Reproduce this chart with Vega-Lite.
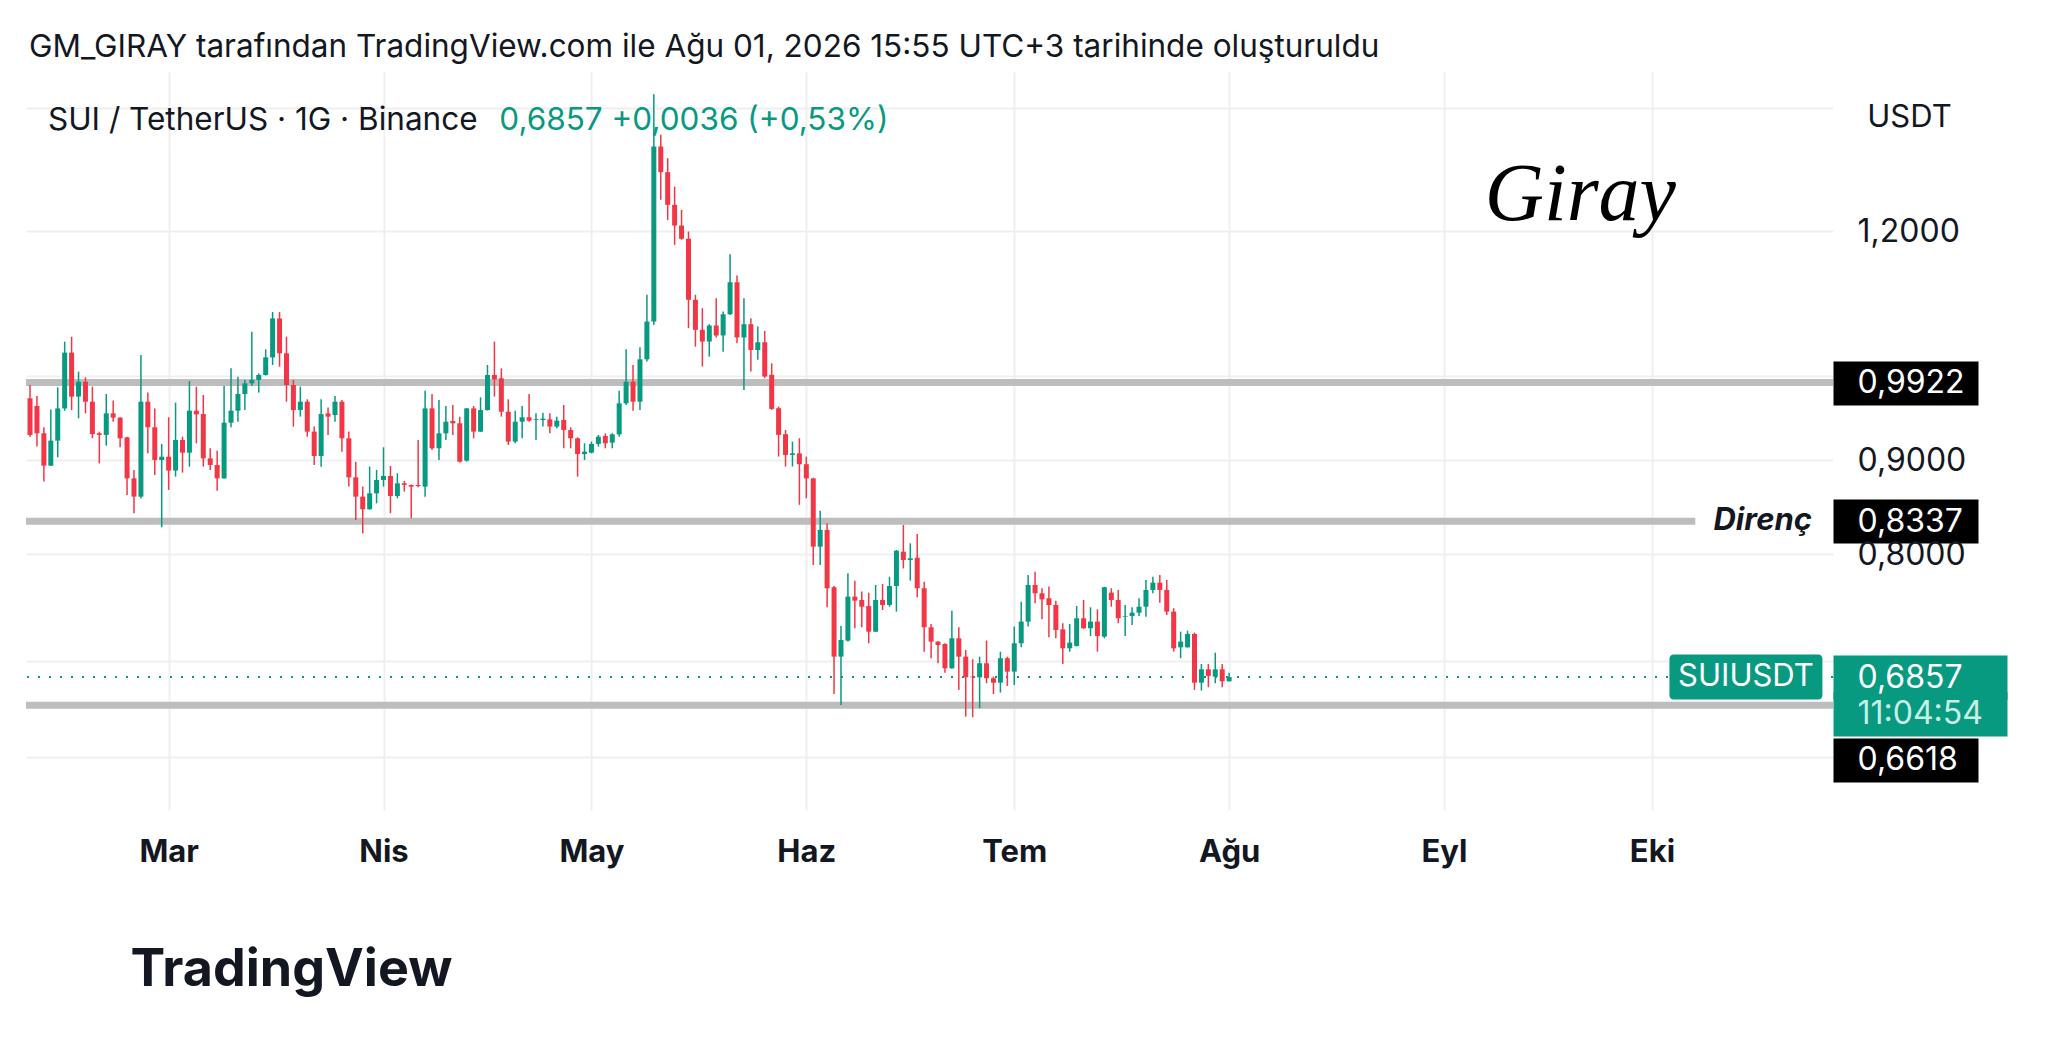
{
  "$schema": "https://vega.github.io/schema/vega-lite/v6.json",
  "width": 1807,
  "height": 738,
  "autosize": {"type": "none"},
  "padding": {"left": 26, "top": 72, "right": 215, "bottom": 235},
  "background": "white",
  "title": {
    "text": "GM_GIRAY tarafından TradingView.com ile Ağu 01, 2026 15:55 UTC+3 tarihinde oluşturuldu",
    "anchor": "start", "frame": "group", "orient": "top", "offset": 14, "baseline": "alphabetic", "dx": 3, "dy": 30,
    "fontSize": 31.5, "fontWeight": "normal", "font": "Inter", "color": "#131722"
  },
  "config": {
    "view": {"stroke": null},
    "locale": {"number": {"decimal": ",", "thousands": ".", "grouping": [3], "currency": ["", ""]}},
    "text": {"font": "Inter"}
  },
  "datasets": {
    "candles": [
      {"d":"2026-02-09","o":0.9728,"h":0.9892,"l":0.9271,"c":0.9291},
      {"d":"2026-02-10","o":0.9635,"h":0.9757,"l":0.9156,"c":0.9310},
      {"d":"2026-02-11","o":0.9310,"h":0.9381,"l":0.8763,"c":0.8940},
      {"d":"2026-02-12","o":0.8940,"h":0.9594,"l":0.8935,"c":0.9225},
      {"d":"2026-02-13","o":0.9225,"h":0.9863,"l":0.9034,"c":0.9606},
      {"d":"2026-02-14","o":0.9606,"h":1.0445,"l":0.9578,"c":1.0302},
      {"d":"2026-02-15","o":1.0302,"h":1.0510,"l":0.9586,"c":0.9749},
      {"d":"2026-02-16","o":0.9749,"h":1.0059,"l":0.9487,"c":0.9933},
      {"d":"2026-02-17","o":0.9933,"h":0.9988,"l":0.9546,"c":0.9687},
      {"d":"2026-02-18","o":0.9687,"h":0.9871,"l":0.9252,"c":0.9302},
      {"d":"2026-02-19","o":0.9310,"h":0.9330,"l":0.8966,"c":0.9291},
      {"d":"2026-02-20","o":0.9291,"h":0.9781,"l":0.9167,"c":0.9546},
      {"d":"2026-02-21","o":0.9546,"h":0.9700,"l":0.9447,"c":0.9495},
      {"d":"2026-02-22","o":0.9495,"h":0.9500,"l":0.9148,"c":0.9252},
      {"d":"2026-02-23","o":0.9263,"h":0.9270,"l":0.8617,"c":0.8799},
      {"d":"2026-02-24","o":0.8799,"h":0.8892,"l":0.8421,"c":0.8599},
      {"d":"2026-02-25","o":0.8599,"h":1.0272,"l":0.8581,"c":0.9687},
      {"d":"2026-02-26","o":0.9687,"h":0.9798,"l":0.9079,"c":0.9381},
      {"d":"2026-02-27","o":0.9381,"h":0.9606,"l":0.8836,"c":0.9004},
      {"d":"2026-02-28","o":0.9004,"h":0.9187,"l":0.8274,"c":0.9041},
      {"d":"2026-03-01","o":0.9041,"h":0.9499,"l":0.8672,"c":0.8885},
      {"d":"2026-03-02","o":0.8885,"h":0.9675,"l":0.8818,"c":0.9233},
      {"d":"2026-03-03","o":0.9233,"h":0.9271,"l":0.8862,"c":0.9087},
      {"d":"2026-03-04","o":0.9087,"h":0.9941,"l":0.8929,"c":0.9578},
      {"d":"2026-03-05","o":0.9578,"h":0.9871,"l":0.9194,"c":0.9534},
      {"d":"2026-03-06","o":0.9538,"h":0.9769,"l":0.8929,"c":0.9022},
      {"d":"2026-03-07","o":0.9022,"h":0.9137,"l":0.8892,"c":0.8948},
      {"d":"2026-03-08","o":0.8948,"h":0.9110,"l":0.8664,"c":0.8799},
      {"d":"2026-03-09","o":0.8799,"h":0.9879,"l":0.8795,"c":0.9435},
      {"d":"2026-03-10","o":0.9435,"h":1.0101,"l":0.9381,"c":0.9578},
      {"d":"2026-03-11","o":0.9578,"h":0.9996,"l":0.9447,"c":0.9781},
      {"d":"2026-03-12","o":0.9781,"h":0.9954,"l":0.9586,"c":0.9913},
      {"d":"2026-03-13","o":0.9913,"h":1.0577,"l":0.9879,"c":0.9954},
      {"d":"2026-03-14","o":0.9954,"h":1.0038,"l":0.9798,"c":1.0017},
      {"d":"2026-03-15","o":1.0017,"h":1.0345,"l":1.0010,"c":1.0241},
      {"d":"2026-03-16","o":1.0241,"h":1.0840,"l":1.0143,"c":1.0754},
      {"d":"2026-03-17","o":1.0754,"h":1.0840,"l":1.0122,"c":1.0293},
      {"d":"2026-03-18","o":1.0293,"h":1.0510,"l":0.9687,"c":0.9892},
      {"d":"2026-03-19","o":0.9892,"h":0.9954,"l":0.9389,"c":0.9586},
      {"d":"2026-03-20","o":0.9586,"h":0.9871,"l":0.9507,"c":0.9687},
      {"d":"2026-03-21","o":0.9687,"h":0.9716,"l":0.9271,"c":0.9330},
      {"d":"2026-03-22","o":0.9330,"h":0.9389,"l":0.8948,"c":0.9049},
      {"d":"2026-03-23","o":0.9049,"h":0.9716,"l":0.8929,"c":0.9538},
      {"d":"2026-03-24","o":0.9546,"h":0.9618,"l":0.9291,"c":0.9507},
      {"d":"2026-03-25","o":0.9526,"h":0.9757,"l":0.9447,"c":0.9687},
      {"d":"2026-03-26","o":0.9687,"h":0.9708,"l":0.9098,"c":0.9252},
      {"d":"2026-03-27","o":0.9252,"h":0.9330,"l":0.8708,"c":0.8810},
      {"d":"2026-03-28","o":0.8810,"h":0.8985,"l":0.8351,"c":0.8599},
      {"d":"2026-03-29","o":0.8599,"h":0.8708,"l":0.8212,"c":0.8464},
      {"d":"2026-03-30","o":0.8464,"h":0.8929,"l":0.8460,"c":0.8635},
      {"d":"2026-03-31","o":0.8635,"h":0.8892,"l":0.8527,"c":0.8781},
      {"d":"2026-04-01","o":0.8781,"h":0.9148,"l":0.8708,"c":0.8825},
      {"d":"2026-04-02","o":0.8825,"h":0.8937,"l":0.8421,"c":0.8606},
      {"d":"2026-04-03","o":0.8606,"h":0.8855,"l":0.8581,"c":0.8744},
      {"d":"2026-04-04","o":0.8744,"h":0.8770,"l":0.8653,"c":0.8726},
      {"d":"2026-04-05","o":0.8726,"h":0.8730,"l":0.8369,"c":0.8708},
      {"d":"2026-04-06","o":0.8726,"h":0.9233,"l":0.8700,"c":0.8715},
      {"d":"2026-04-07","o":0.8708,"h":0.9821,"l":0.8599,"c":0.9606},
      {"d":"2026-04-08","o":0.9606,"h":0.9781,"l":0.9118,"c":0.9137},
      {"d":"2026-04-09","o":0.9137,"h":0.9708,"l":0.9004,"c":0.9310},
      {"d":"2026-04-10","o":0.9310,"h":0.9635,"l":0.9233,"c":0.9447},
      {"d":"2026-04-11","o":0.9455,"h":0.9647,"l":0.9291,"c":0.9428},
      {"d":"2026-04-12","o":0.9428,"h":0.9507,"l":0.8974,"c":0.8985},
      {"d":"2026-04-13","o":0.8996,"h":0.9610,"l":0.8985,"c":0.9606},
      {"d":"2026-04-14","o":0.9606,"h":0.9635,"l":0.9252,"c":0.9330},
      {"d":"2026-04-15","o":0.9330,"h":0.9740,"l":0.9325,"c":0.9586},
      {"d":"2026-04-16","o":0.9586,"h":1.0143,"l":0.9580,"c":1.0017},
      {"d":"2026-04-17","o":1.0017,"h":1.0445,"l":0.9749,"c":0.9962},
      {"d":"2026-04-18","o":0.9975,"h":1.0101,"l":0.9507,"c":0.9566},
      {"d":"2026-04-19","o":0.9566,"h":0.9716,"l":0.9175,"c":0.9214},
      {"d":"2026-04-20","o":0.9214,"h":0.9578,"l":0.9194,"c":0.9447},
      {"d":"2026-04-21","o":0.9447,"h":0.9635,"l":0.9252,"c":0.9499},
      {"d":"2026-04-22","o":0.9499,"h":0.9781,"l":0.9447,"c":0.9459},
      {"d":"2026-04-23","o":0.9467,"h":0.9546,"l":0.9233,"c":0.9475},
      {"d":"2026-04-24","o":0.9467,"h":0.9554,"l":0.9389,"c":0.9483},
      {"d":"2026-04-25","o":0.9475,"h":0.9546,"l":0.9310,"c":0.9389},
      {"d":"2026-04-26","o":0.9389,"h":0.9507,"l":0.9369,"c":0.9459},
      {"d":"2026-04-27","o":0.9467,"h":0.9647,"l":0.9137,"c":0.9349},
      {"d":"2026-04-28","o":0.9349,"h":0.9381,"l":0.9137,"c":0.9252},
      {"d":"2026-04-29","o":0.9252,"h":0.9263,"l":0.8818,"c":0.9071},
      {"d":"2026-04-30","o":0.9071,"h":0.9194,"l":0.9004,"c":0.9098},
      {"d":"2026-05-01","o":0.9087,"h":0.9214,"l":0.9079,"c":0.9187},
      {"d":"2026-05-02","o":0.9187,"h":0.9291,"l":0.9156,"c":0.9271},
      {"d":"2026-05-03","o":0.9279,"h":0.9310,"l":0.9137,"c":0.9194},
      {"d":"2026-05-04","o":0.9202,"h":0.9310,"l":0.9137,"c":0.9298},
      {"d":"2026-05-05","o":0.9298,"h":0.9821,"l":0.9271,"c":0.9667},
      {"d":"2026-05-06","o":0.9667,"h":1.0345,"l":0.9647,"c":0.9933},
      {"d":"2026-05-07","o":0.9933,"h":1.0143,"l":0.9578,"c":0.9687},
      {"d":"2026-05-08","o":0.9687,"h":1.0371,"l":0.9586,"c":1.0216},
      {"d":"2026-05-09","o":1.0216,"h":1.1077,"l":1.0187,"c":1.0711},
      {"d":"2026-05-10","o":1.0711,"h":1.4248,"l":1.0667,"c":1.3342},
      {"d":"2026-05-11","o":1.3342,"h":1.3540,"l":1.2480,"c":1.2920},
      {"d":"2026-05-12","o":1.2920,"h":1.3148,"l":1.2168,"c":1.2401},
      {"d":"2026-05-13","o":1.2401,"h":1.2688,"l":1.1794,"c":1.2083},
      {"d":"2026-05-14","o":1.2083,"h":1.2323,"l":1.1869,"c":1.1884},
      {"d":"2026-05-15","o":1.1884,"h":1.1993,"l":1.0623,"c":1.1008},
      {"d":"2026-05-16","o":1.1008,"h":1.1077,"l":1.0380,"c":1.0601},
      {"d":"2026-05-17","o":1.0601,"h":1.0893,"l":1.0124,"c":1.0446},
      {"d":"2026-05-18","o":1.0446,"h":1.0676,"l":1.0251,"c":1.0658},
      {"d":"2026-05-19","o":1.0658,"h":1.1031,"l":1.0500,"c":1.0526},
      {"d":"2026-05-20","o":1.0526,"h":1.0847,"l":1.0314,"c":1.0810},
      {"d":"2026-05-21","o":1.0810,"h":1.1656,"l":1.0801,"c":1.1253},
      {"d":"2026-05-22","o":1.1253,"h":1.1349,"l":1.0424,"c":1.0500},
      {"d":"2026-05-23","o":1.0500,"h":1.1031,"l":0.9831,"c":1.0676},
      {"d":"2026-05-24","o":1.0676,"h":1.0755,"l":1.0061,"c":1.0336},
      {"d":"2026-05-25","o":1.0336,"h":1.0645,"l":1.0209,"c":1.0437},
      {"d":"2026-05-26","o":1.0437,"h":1.0587,"l":0.9977,"c":0.9998},
      {"d":"2026-05-27","o":1.0019,"h":1.0166,"l":0.9588,"c":0.9600},
      {"d":"2026-05-28","o":0.9608,"h":0.9628,"l":0.9042,"c":0.9292},
      {"d":"2026-05-29","o":0.9300,"h":0.9350,"l":0.8930,"c":0.9061},
      {"d":"2026-05-30","o":0.9061,"h":0.9214,"l":0.8930,"c":0.9079},
      {"d":"2026-05-31","o":0.9079,"h":0.9253,"l":0.8511,"c":0.8956},
      {"d":"2026-06-01","o":0.8956,"h":0.9042,"l":0.8582,"c":0.8798},
      {"d":"2026-06-02","o":0.8798,"h":0.8806,"l":0.7892,"c":0.8076},
      {"d":"2026-06-03","o":0.8076,"h":0.8447,"l":0.7892,"c":0.8248},
      {"d":"2026-06-04","o":0.8247,"h":0.8316,"l":0.7484,"c":0.7665},
      {"d":"2026-06-05","o":0.7675,"h":0.7687,"l":0.6713,"c":0.7035},
      {"d":"2026-06-06","o":0.7035,"h":0.7311,"l":0.6621,"c":0.7184},
      {"d":"2026-06-07","o":0.7178,"h":0.7810,"l":0.7169,"c":0.7585},
      {"d":"2026-06-08","o":0.7585,"h":0.7739,"l":0.7290,"c":0.7547},
      {"d":"2026-06-09","o":0.7553,"h":0.7633,"l":0.7299,"c":0.7490},
      {"d":"2026-06-10","o":0.7496,"h":0.7623,"l":0.7154,"c":0.7259},
      {"d":"2026-06-11","o":0.7259,"h":0.7697,"l":0.7255,"c":0.7553},
      {"d":"2026-06-12","o":0.7553,"h":0.7706,"l":0.7459,"c":0.7506},
      {"d":"2026-06-13","o":0.7506,"h":0.7777,"l":0.7490,"c":0.7687},
      {"d":"2026-06-14","o":0.7687,"h":0.8042,"l":0.7444,"c":0.8035},
      {"d":"2026-06-15","o":0.8025,"h":0.8298,"l":0.7859,"c":0.7942},
      {"d":"2026-06-16","o":0.7942,"h":0.8110,"l":0.7739,"c":0.7959},
      {"d":"2026-06-17","o":0.7965,"h":0.8205,"l":0.7579,"c":0.7665},
      {"d":"2026-06-18","o":0.7665,"h":0.7729,"l":0.7079,"c":0.7299},
      {"d":"2026-06-19","o":0.7299,"h":0.7330,"l":0.7021,"c":0.7169},
      {"d":"2026-06-20","o":0.7169,"h":0.7172,"l":0.6977,"c":0.7139},
      {"d":"2026-06-21","o":0.7148,"h":0.7154,"l":0.6895,"c":0.6933},
      {"d":"2026-06-22","o":0.6933,"h":0.7453,"l":0.6930,"c":0.7199},
      {"d":"2026-06-23","o":0.7199,"h":0.7299,"l":0.6747,"c":0.7035},
      {"d":"2026-06-24","o":0.7035,"h":0.7094,"l":0.6525,"c":0.6855},
      {"d":"2026-06-25","o":0.6861,"h":0.7012,"l":0.6520,"c":0.6855},
      {"d":"2026-06-26","o":0.6855,"h":0.7035,"l":0.6594,"c":0.6977},
      {"d":"2026-06-27","o":0.6977,"h":0.7178,"l":0.6804,"c":0.6847},
      {"d":"2026-06-28","o":0.6847,"h":0.6861,"l":0.6713,"c":0.6809},
      {"d":"2026-06-29","o":0.6809,"h":0.7079,"l":0.6725,"c":0.7021},
      {"d":"2026-06-30","o":0.7021,"h":0.7035,"l":0.6781,"c":0.6904},
      {"d":"2026-07-01","o":0.6904,"h":0.7305,"l":0.6789,"c":0.7154},
      {"d":"2026-07-02","o":0.7154,"h":0.7537,"l":0.7118,"c":0.7351},
      {"d":"2026-07-03","o":0.7351,"h":0.7793,"l":0.7305,"c":0.7697},
      {"d":"2026-07-04","o":0.7697,"h":0.7826,"l":0.7522,"c":0.7617},
      {"d":"2026-07-05","o":0.7617,"h":0.7665,"l":0.7373,"c":0.7559},
      {"d":"2026-07-06","o":0.7569,"h":0.7681,"l":0.7208,"c":0.7506},
      {"d":"2026-07-07","o":0.7506,"h":0.7547,"l":0.7199,"c":0.7274},
      {"d":"2026-07-08","o":0.7280,"h":0.7336,"l":0.6971,"c":0.7109},
      {"d":"2026-07-09","o":0.7109,"h":0.7330,"l":0.7079,"c":0.7160},
      {"d":"2026-07-10","o":0.7130,"h":0.7496,"l":0.7125,"c":0.7382},
      {"d":"2026-07-11","o":0.7382,"h":0.7553,"l":0.7285,"c":0.7290},
      {"d":"2026-07-12","o":0.7290,"h":0.7484,"l":0.7220,"c":0.7351},
      {"d":"2026-07-13","o":0.7351,"h":0.7465,"l":0.7079,"c":0.7220},
      {"d":"2026-07-14","o":0.7214,"h":0.7680,"l":0.7199,"c":0.7675},
      {"d":"2026-07-15","o":0.7623,"h":0.7665,"l":0.7490,"c":0.7553},
      {"d":"2026-07-16","o":0.7553,"h":0.7649,"l":0.7336,"c":0.7382},
      {"d":"2026-07-17","o":0.7397,"h":0.7506,"l":0.7220,"c":0.7403},
      {"d":"2026-07-18","o":0.7403,"h":0.7484,"l":0.7320,"c":0.7434},
      {"d":"2026-07-19","o":0.7434,"h":0.7569,"l":0.7403,"c":0.7490},
      {"d":"2026-07-20","o":0.7490,"h":0.7745,"l":0.7397,"c":0.7649},
      {"d":"2026-07-21","o":0.7649,"h":0.7777,"l":0.7617,"c":0.7719},
      {"d":"2026-07-22","o":0.7719,"h":0.7793,"l":0.7528,"c":0.7649},
      {"d":"2026-07-23","o":0.7649,"h":0.7745,"l":0.7413,"c":0.7444},
      {"d":"2026-07-24","o":0.7444,"h":0.7475,"l":0.7079,"c":0.7109},
      {"d":"2026-07-25","o":0.7118,"h":0.7259,"l":0.7021,"c":0.7169},
      {"d":"2026-07-26","o":0.7118,"h":0.7268,"l":0.7115,"c":0.7238},
      {"d":"2026-07-27","o":0.7238,"h":0.7250,"l":0.6747,"c":0.6809},
      {"d":"2026-07-28","o":0.6809,"h":0.6971,"l":0.6742,"c":0.6924},
      {"d":"2026-07-29","o":0.6924,"h":0.6971,"l":0.6770,"c":0.6867},
      {"d":"2026-07-30","o":0.6861,"h":0.7070,"l":0.6804,"c":0.6924},
      {"d":"2026-07-31","o":0.6924,"h":0.6971,"l":0.6770,"c":0.6821},
      {"d":"2026-08-01","o":0.6821,"h":0.6895,"l":0.6818,"c":0.6857}
    ],
    "levels": [{"price": 0.9922}, {"price": 0.6618}],
    "resistance": [{"price": 0.8337, "label": "Direnç"}],
    "last": [{"price": 0.6857, "symbol": "SUIUSDT", "pair": "SUI / TetherUS · 1G · Binance", "quote": "0,6857  +0,0036 (+0,53%)"}]
  },
  "layer": [
    {
      "data": {"name": "levels"},
      "mark": {"type": "rule", "color": "#bdbdbd", "strokeWidth": 7},
      "encoding": {
        "y": {
          "field": "price", "type": "quantitative",
          "scale": {"type": "log", "domain": [0.58036, 1.465], "nice": false, "zero": false},
          "axis": {
            "orient": "right",
            "values": [1.4, 1.2, 1, 0.9922, 0.9, 0.8337, 0.8, 0.7, 0.6857, 0.6548, 0.62, 0.6183],
            "format": ".4f",
            "labelExpr": "datum.value == 1.4 || datum.value == 1 || datum.value == 0.7 || datum.value == 0.62 ? '' : datum.value == 0.6548 ? '11:04:54' : datum.value == 0.6183 ? '0,6618' : datum.label",
            "title": "USDT", "titleAngle": 0, "titleX": 76, "titleY": 45, "titleAlign": "center", "titleBaseline": "middle",
            "titleFontSize": 31, "titleFontWeight": "normal", "titleColor": "#131722", "titleFont": "Inter",
            "domain": false,
            "grid": true,
            "gridColor": {"condition": {"test": "datum.value == 1.4 || datum.value == 1.2 || datum.value == 1 || datum.value == 0.9 || datum.value == 0.8 || datum.value == 0.7 || datum.value == 0.62", "value": "#efefef"}, "value": "rgba(0,0,0,0)"},
            "gridWidth": 2,
            "ticks": true,
            "tickColor": {"condition": [{"test": "datum.value == 0.9922 || datum.value == 0.8337 || datum.value == 0.6183", "value": "#000000"}, {"test": "datum.value == 0.6857 || datum.value == 0.6548", "value": "#089981"}], "value": "rgba(0,0,0,0)"},
            "tickSize": {"condition": [{"test": "datum.value == 0.9922 || datum.value == 0.8337 || datum.value == 0.6183", "value": 145}, {"test": "datum.value == 0.6857 || datum.value == 0.6548", "value": 174}], "value": 0},
            "tickWidth": {"condition": {"test": "datum.value == 0.9922 || datum.value == 0.8337 || datum.value == 0.6183 || datum.value == 0.6857 || datum.value == 0.6548", "value": 44}, "value": 1},
            "labelPadding": {"condition": [{"test": "datum.value == 0.9922 || datum.value == 0.8337 || datum.value == 0.6183", "value": -121}, {"test": "datum.value == 0.6857 || datum.value == 0.6548", "value": -150}], "value": 24},
            "labelColor": {"condition": [{"test": "datum.value == 0.9922 || datum.value == 0.8337 || datum.value == 0.6183 || datum.value == 0.6857", "value": "#ffffff"}, {"test": "datum.value == 0.6548", "value": "#c8efe4"}], "value": "#131722"},
            "labelFontSize": 32, "labelFont": "Inter", "labelAlign": "left", "labelBaseline": "middle",
            "labelOverlap": false, "labelBound": false, "labelFlush": false
          }
        }
      }
    },
    {
      "data": {"name": "resistance"},
      "mark": {"type": "rule", "color": "#bdbdbd", "strokeWidth": 7, "clip": true},
      "encoding": {
        "y": {"field": "price", "type": "quantitative"},
        "x": {"datum": {"year": 2026, "month": 2, "date": 1, "utc": true}, "type": "temporal"},
        "x2": {"datum": {"year": 2026, "month": 10, "date": 7, "hours": 6, "utc": true}}
      }
    },
    {
      "data": {"name": "last"},
      "mark": {"type": "rule", "color": "#089981", "strokeWidth": 2, "strokeDash": [2, 9]},
      "encoding": {"y": {"field": "price", "type": "quantitative"}}
    },
    {
      "data": {"name": "candles"},
      "mark": {"type": "rule", "strokeWidth": 1.5},
      "encoding": {
        "x": {
          "field": "d", "type": "temporal",
          "scale": {"type": "utc", "domain": [{"year": 2026, "month": 2, "date": 9, "hours": 3, "minutes": 25, "utc": true}, {"year": 2026, "month": 10, "date": 26, "hours": 9, "minutes": 35, "utc": true}]},
          "axis": {
            "values": [
              {"year": 2026, "month": 3, "date": 1, "utc": true},
              {"year": 2026, "month": 4, "date": 1, "utc": true},
              {"year": 2026, "month": 5, "date": 1, "utc": true},
              {"year": 2026, "month": 6, "date": 1, "utc": true},
              {"year": 2026, "month": 7, "date": 1, "utc": true},
              {"year": 2026, "month": 8, "date": 1, "utc": true},
              {"year": 2026, "month": 9, "date": 1, "utc": true},
              {"year": 2026, "month": 10, "date": 1, "utc": true}
            ],
            "labelExpr": "['Oca','Şub','Mar','Nis','May','Haz','Tem','Ağu','Eyl','Eki','Kas','Ara'][utcmonth(datum.value)]",
            "ticks": false, "domain": false, "grid": true, "gridColor": "#efefef", "gridWidth": 2,
            "labelFontSize": 31, "labelFontWeight": "bold", "labelFont": "Inter", "labelColor": "#131722",
            "labelPadding": 42, "labelBaseline": "middle", "labelAlign": "center", "labelFlush": false, "labelOverlap": false,
            "title": "TradingView", "titleX": 104, "titleY": 175, "titleAlign": "left", "titleBaseline": "alphabetic",
            "titleFontSize": 52, "titleFontWeight": "bold", "titleFont": "Inter", "titleColor": "#131722"
          }
        },
        "y": {"field": "l", "type": "quantitative"},
        "y2": {"field": "h"},
        "color": {"condition": {"test": "datum.c >= datum.o", "value": "#089981"}, "value": "#F23645"}
      }
    },
    {
      "data": {"name": "candles"},
      "mark": {"type": "bar", "width": 5},
      "encoding": {
        "x": {"field": "d", "type": "temporal"},
        "y": {"field": "o", "type": "quantitative"},
        "y2": {"field": "c"},
        "color": {"condition": {"test": "datum.c >= datum.o", "value": "#089981"}, "value": "#F23645"}
      }
    },
    {
      "data": {"name": "last"},
      "mark": {"type": "tick", "orient": "horizontal", "size": 153, "thickness": 45, "color": "#089981", "opacity": 1, "cornerRadius": 4},
      "encoding": {
        "x": {"datum": {"year": 2026, "month": 10, "date": 14, "hours": 13, "minutes": 27, "utc": true}, "type": "temporal"},
        "y": {"field": "price", "type": "quantitative"}
      }
    },
    {
      "data": {"name": "last"},
      "mark": {"type": "text", "color": "#ffffff", "fontSize": 31, "align": "center", "baseline": "middle"},
      "encoding": {
        "x": {"datum": {"year": 2026, "month": 10, "date": 14, "hours": 13, "minutes": 27, "utc": true}, "type": "temporal"},
        "y": {"field": "price", "type": "quantitative"},
        "text": {"field": "symbol"}
      }
    },
    {
      "data": {"name": "last"},
      "mark": {"type": "text", "color": "#131722", "fontSize": 31.5, "align": "left", "baseline": "alphabetic"},
      "encoding": {
        "x": {"datum": {"year": 2026, "month": 2, "date": 11, "hours": 14, "utc": true}, "type": "temporal"},
        "y": {"datum": 1.3621, "type": "quantitative"},
        "text": {"field": "pair"}
      }
    },
    {
      "data": {"name": "last"},
      "mark": {"type": "text", "color": "#089981", "fontSize": 31.5, "align": "left", "baseline": "alphabetic"},
      "encoding": {
        "x": {"datum": {"year": 2026, "month": 4, "date": 17, "hours": 17, "utc": true}, "type": "temporal"},
        "y": {"datum": 1.3621, "type": "quantitative"},
        "text": {"field": "quote"}
      }
    },
    {
      "data": {"name": "resistance"},
      "mark": {"type": "text", "color": "#131722", "fontSize": 31, "fontWeight": "bold", "fontStyle": "italic", "align": "right", "baseline": "middle"},
      "encoding": {
        "x": {"datum": {"year": 2026, "month": 10, "date": 24, "hours": 2, "utc": true}, "type": "temporal"},
        "y": {"field": "price", "type": "quantitative"},
        "text": {"field": "label"}
      }
    },
    {
      "data": {"name": "last"},
      "mark": {"type": "text", "color": "#000000", "fontSize": 82, "font": "Liberation Serif", "fontStyle": "italic", "align": "center", "baseline": "alphabetic", "text": "Giray"},
      "encoding": {
        "x": {"datum": {"year": 2026, "month": 9, "date": 20, "hours": 16, "utc": true}, "type": "temporal"},
        "y": {"datum": 1.2167, "type": "quantitative"}
      }
    }
  ]
}
